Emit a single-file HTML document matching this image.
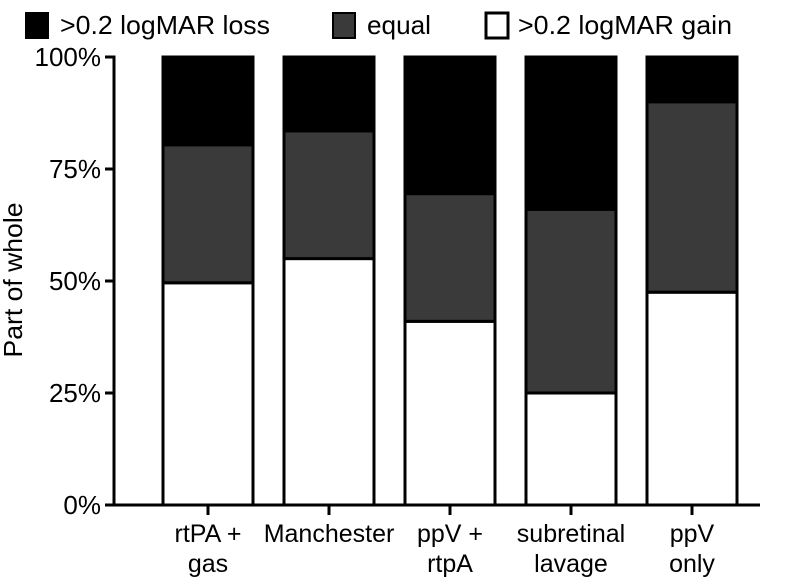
<!DOCTYPE html>
<html><head><meta charset="utf-8"><style>
body{margin:0;background:#fff}
svg text{font-family:"Liberation Sans",Arial,sans-serif;fill:#000}
</style></head><body>
<svg id="chart" width="786" height="581" viewBox="0 0 786 581">
<g>
 <rect x="26" y="13" width="22" height="25" fill="#000" stroke="#000" stroke-width="2"/>
 <text x="60" y="34" font-size="26" textLength="210" lengthAdjust="spacingAndGlyphs">&gt;0.2 logMAR loss</text>
 <rect x="333" y="13" width="22" height="25" fill="#3a3a3a" stroke="#000" stroke-width="2"/>
 <text x="367" y="34" font-size="26" textLength="64" lengthAdjust="spacingAndGlyphs">equal</text>
 <rect x="486" y="13" width="22" height="25" fill="#fff" stroke="#000" stroke-width="3"/>
 <text x="518" y="34" font-size="26" textLength="214" lengthAdjust="spacingAndGlyphs">&gt;0.2 logMAR gain</text>
</g>
<text transform="translate(22,280) rotate(-90)" text-anchor="middle" font-size="26" textLength="155" lengthAdjust="spacingAndGlyphs">Part of whole</text>
<g id="plot"></g>
</svg>
<script>
const categories=[["rtPA +","gas"],["Manchester"],["ppV +","rtpA"],["subretinal","lavage"],["ppV","only"]];
const gain=[49.6,55,41,25,47.5];
const equal=[30.8,28.5,28.5,41,42.5];
const loss=[19.6,16.5,30.5,34,10];
const yTicks=[0,25,50,75,100];
const NS="http://www.w3.org/2000/svg";
const plot=document.getElementById('plot');
const y0=505,y100=57,axX=114;
const yS=v=>y0-(y0-y100)*v/100;
const xL=i=>163+i*121, bw=90;
function mk(t,a){const e=document.createElementNS(NS,t);for(const k in a)e.setAttribute(k,a[k]);plot.appendChild(e);return e;}
categories.forEach((c,i)=>{
 const segs=[[0,gain[i],'#fff','gain'],[gain[i],gain[i]+equal[i],'#3a3a3a','equal'],[gain[i]+equal[i],gain[i]+equal[i]+loss[i],'#000','loss']];
 segs.forEach(s=>{
  const r=mk('rect',{x:xL(i),y:yS(s[1]),width:bw,height:yS(s[0])-yS(s[1]),fill:s[2],stroke:'#000','stroke-width':3});
  
  
 });
 const cx=xL(i)+bw/2;
 const tk=mk('line',{x1:cx,x2:cx,y1:y0,y2:y0+10,stroke:'#000','stroke-width':3});
 
 
 c.forEach((ln,j)=>{
  const t=mk('text',{x:cx,y:542+j*30,'text-anchor':'middle','font-size':25});
  t.textContent=ln;
  
  
 });
});
const ax=mk('path',{d:`M${axX-9} ${y100}H${axX}V${y0}H760`,fill:'none',stroke:'#000','stroke-width':3});


yTicks.forEach(v=>{
 const l=mk('line',{x1:axX-9,x2:axX,y1:yS(v),y2:yS(v),stroke:'#000','stroke-width':3});
 
 
 const t=mk('text',{x:axX-13,y:yS(v)+9,'text-anchor':'end','font-size':26});
 t.textContent=v+'%';
 
 
});
</script>
</body></html>
